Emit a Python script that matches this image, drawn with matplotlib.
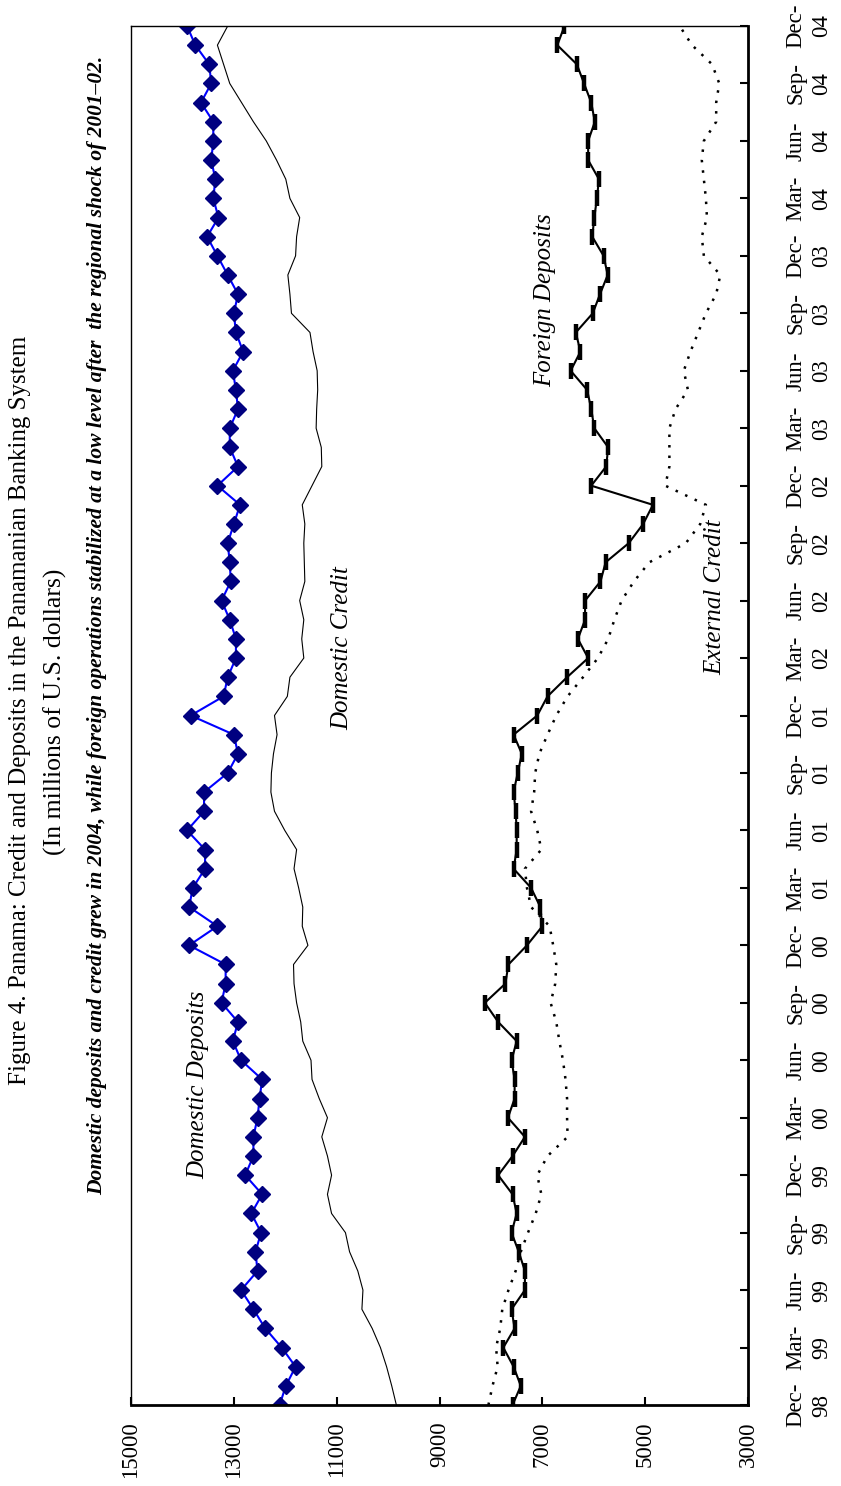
import matplotlib
matplotlib.use('Agg')
import matplotlib.pyplot as plt
import numpy as np

plt.rcParams['font.family'] = ['Liberation Serif', 'DejaVu Serif']

# monthly observations, Dec-98 .. Dec-04 (millions of US$)
dom_deposits = [12110, 11990, 11800, 12070, 12390, 12620, 12860, 12540, 12580, 12470,
                12660, 12450, 12780, 12620, 12620, 12540, 12500, 12450, 12860, 13020,
                12920, 13240, 13160, 13160, 13870, 13320, 13870, 13800, 13560, 13560,
                13910, 13580, 13580, 13120, 12920, 13000, 13840, 13200, 13120, 12960,
                12960, 13080, 13240, 13060, 13080, 13120, 13000, 12880, 13320, 12920,
                13080, 13080, 12920, 12960, 13020, 12820, 12960, 13000, 12920, 13120,
                13320, 13520, 13300, 13400, 13360, 13440, 13400, 13400, 13640, 13440,
                13480, 13750, 13910]
dom_credit = [9840, 9930, 10030, 10150, 10310, 10510, 10490, 10590, 10750, 10830,
              11100, 11180, 11100, 11180, 11290, 11180, 11340, 11480, 11500, 11660,
              11700, 11780, 11830, 11840, 11560, 11670, 11660, 11740, 11830, 11780,
              12010, 12210, 12280, 12270, 12230, 12160, 12210, 11960, 11910, 11640,
              11680, 11640, 11720, 11620, 11630, 11640, 11620, 11670, 11480, 11290,
              11300, 11400, 11390, 11370, 11380, 11460, 11520, 11880, 11910, 11950,
              11800, 11780, 11720, 11910, 11990, 12170, 12370, 12620, 12850, 13080,
              13200, 13320, 13120]
for_deposits = [7580, 7420, 7560, 7760, 7540, 7600, 7340, 7340, 7460, 7600,
                7500, 7580, 7860, 7580, 7340, 7670, 7540, 7540, 7600, 7500,
                7860, 8120, 7720, 7660, 7300, 7000, 7040, 7220, 7560, 7500,
                7500, 7520, 7560, 7480, 7400, 7560, 7100, 6900, 6520, 6110,
                6310, 6170, 6170, 5870, 5770, 5320, 5040, 4850, 6050, 5760,
                5720, 5990, 6050, 6130, 6450, 6260, 6350, 6020, 5880, 5730,
                5810, 6030, 5990, 5940, 5900, 6110, 6110, 5980, 6050, 6190,
                6330, 6710, 6570]
ext_credit = [8050, 7970, 7870, 7900, 7820, 7780, 7660, 7520, 7420, 7280,
              7130, 7020, 7100, 6900, 6510, 6520, 6520, 6550, 6600, 6670,
              6730, 6840, 6750, 6730, 6790, 6860, 7220, 7300, 7340, 7020,
              7100, 7220, 7160, 7140, 7060, 6900, 6730, 6510, 6210, 5920,
              5720, 5600, 5460, 5220, 4920, 4210, 3930, 3820, 4610, 4530,
              4530, 4530, 4410, 4170, 4250, 4120, 3970, 3820, 3620, 3540,
              3860, 3900, 3800, 3820, 3860, 3900, 3860, 3620, 3620, 3560,
              3700, 4090, 4330]

quarter_labels = ['Dec-\n98', 'Mar-\n99', 'Jun-\n99', 'Sep-\n99', 'Dec-\n99',
                  'Mar-\n00', 'Jun-\n00', 'Sep-\n00', 'Dec-\n00', 'Mar-\n01',
                  'Jun-\n01', 'Sep-\n01', 'Dec-\n01', 'Mar-\n02', 'Jun-\n02',
                  'Sep-\n02', 'Dec-\n02', 'Mar-\n03', 'Jun-\n03', 'Sep-\n03',
                  'Dec-\n03', 'Mar-\n04', 'Jun-\n04', 'Sep-\n04', 'Dec-\n04']
value_ticks = [15000, 13000, 11000, 9000, 7000, 5000, 3000]

months = np.arange(len(dom_deposits))

fig = plt.figure(figsize=(8.41, 14.86), dpi=100)
ax = fig.add_axes([0.1558, 0.0545, 0.7337, 0.928])

# chart is drawn turned on its side: values run right-to-left, time runs upward
ax.plot(dom_credit, months, '-', color='black', lw=0.8)
ax.plot(ext_credit, months, color='black', lw=1.8, linestyle=(0, (1.0, 3.2)))
ax.plot(for_deposits, months, '-', color='black', lw=1.5,
        marker='|', ms=11, mew=3.2)
ax.plot(dom_deposits, months, '-', color='#0000FF', lw=1.5,
        marker='D', ms=8, mfc='#000080', mec='#000080')

ax.set_xlim(15000, 3000)
ax.set_ylim(0, len(dom_deposits) - 1)
ax.set_xticks(value_ticks)
ax.set_xticklabels([str(v) for v in value_ticks], rotation=90, fontsize=16.5)
ax.yaxis.tick_right()
ax.set_yticks(np.arange(0, len(dom_deposits), 3))
ax.set_yticklabels(quarter_labels, rotation=90, fontsize=16.5,
                   va='center', multialignment='center', linespacing=1.3)
ax.tick_params(axis='x', direction='in', length=6, width=1.5, pad=12)
ax.tick_params(axis='y', direction='in', length=6, width=1.5, pad=27)
ax.spines['bottom'].set_linewidth(2.0)
ax.spines['right'].set_linewidth(2.0)
ax.spines['left'].set_linewidth(1.0)
ax.spines['top'].set_linewidth(1.0)

ax.text(13700, 16.7, 'Domestic Deposits', rotation=90, style='italic',
        fontsize=18, ha='center', va='center')
ax.text(10900, 39.5, 'Domestic Credit', rotation=90, style='italic',
        fontsize=18, ha='center', va='center')
ax.text(6950, 57.7, 'Foreign Deposits', rotation=90, style='italic',
        fontsize=18, ha='center', va='center')
ax.text(3640, 42.2, 'External Credit', rotation=90, style='italic',
        fontsize=18, ha='center', va='center')

fig.text(20 / 841, 1 - 710 / 1486,
         'Figure 4. Panama: Credit and Deposits in the Panamanian Banking System',
         rotation=90, fontsize=18, ha='center', va='center')
fig.text(55 / 841, 1 - 712 / 1486, '(In millions of U.S. dollars)',
         rotation=90, fontsize=18.5, ha='center', va='center')
fig.text(97 / 841, 1 - 625 / 1486,
         'Domestic deposits and credit grew in 2004, while foreign operations '
         'stabilized at a low level after  the regional shock of 2001\u201302.',
         rotation=90, fontsize=15.5, fontweight='bold', style='italic',
         ha='center', va='center')

fig.savefig('out.png', dpi=100)
